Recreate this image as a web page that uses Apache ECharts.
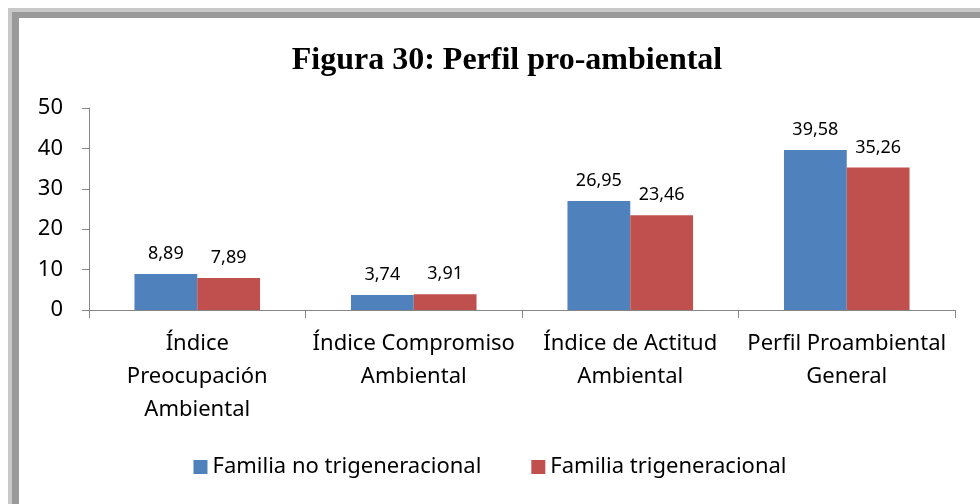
<!DOCTYPE html>
<html>
<head>
<meta charset="utf-8">
<script src="https://cdn.jsdelivr.net/npm/echarts@6/dist/echarts.min.js"></script>
<style>
  html, body { margin: 0; padding: 0; background: #fff; }
  .frame {
    position: absolute; left: 8px; top: 8px; width: 1000px; height: 520px;
    border-left: 4px solid #c8c8c8; border-top: 4px solid #c8c8c8;
    box-sizing: border-box;
  }
  .frame .inner {
    position: absolute; left: 0; top: 0; right: 0; bottom: 0;
    border-left: 7px solid #9a9a9a; border-top: 6px solid #9a9a9a;
  }
  #main { position: absolute; left: 0; top: 0; width: 980px; height: 504px; }
</style>
</head>
<body>
<div class="frame"><div class="inner"></div></div>
<div id="main"></div>
<script>
  // categorias y valores
  const categories = [
    'Índice\nPreocupación\nAmbiental',
    'Índice Compromiso\nAmbiental',
    'Índice de Actitud\nAmbiental',
    'Perfil Proambiental\nGeneral'
  ];
  const noTrigen = [8.89, 3.74, 26.95, 39.58];
  const trigen = [7.89, 3.91, 23.46, 35.26];
  const seriesNames = ['Familia no trigeneracional', 'Familia trigeneracional'];

  const font = 'Noto Sans';
  const chart = echarts.init(document.getElementById('main'));
  const lbl = {
    show: true,
    position: 'top',
    distance: 11,
    color: '#000',
    fontSize: 18,
    fontFamily: font,
    formatter: p => p.value.toFixed(2).replace('.', ',')
  };
  chart.setOption({
    animation: false,
    backgroundColor: 'transparent',
    title: {
      text: 'Figura 30: Perfil pro-ambiental',
      left: 502,
      textAlign: 'center',
      top: 40,
      textStyle: { fontFamily: 'Liberation Serif', fontWeight: 'bold', fontSize: 32, color: '#000' }
    },
    grid: { left: 89, right: 25, top: 108, bottom: 194 },
    legend: {
      bottom: 21,
      left: 'center',
      itemWidth: 14,
      itemHeight: 14,
      itemGap: 50,
      icon: 'rect',
      textStyle: { fontFamily: font, fontSize: 22, color: '#000' },
      data: seriesNames
    },
    xAxis: {
      type: 'category',
      data: categories,
      axisLine: { lineStyle: { color: '#868686' } },
      axisTick: { show: true, length: 8, alignWithLabel: false, lineStyle: { color: '#868686' } },
      axisLabel: { fontFamily: font, fontSize: 22, color: '#000', lineHeight: 33, margin: 17, interval: 0 }
    },
    yAxis: {
      type: 'value',
      min: 0,
      max: 50,
      interval: 10,
      splitLine: { show: false },
      axisLine: { show: true, lineStyle: { color: '#868686' } },
      axisTick: { show: true, length: 7, lineStyle: { color: '#868686' } },
      axisLabel: { fontFamily: font, fontSize: 22, color: '#000', margin: 26 }
    },
    series: [
      {
        name: seriesNames[0], type: 'bar', data: noTrigen,
        barGap: '0%', barCategoryGap: '42%',
        itemStyle: { color: '#4f81bd' }, label: lbl
      },
      {
        name: seriesNames[1], type: 'bar', data: trigen,
        itemStyle: { color: '#c0504d' }, label: lbl
      }
    ]
  });
</script>
</body>
</html>
